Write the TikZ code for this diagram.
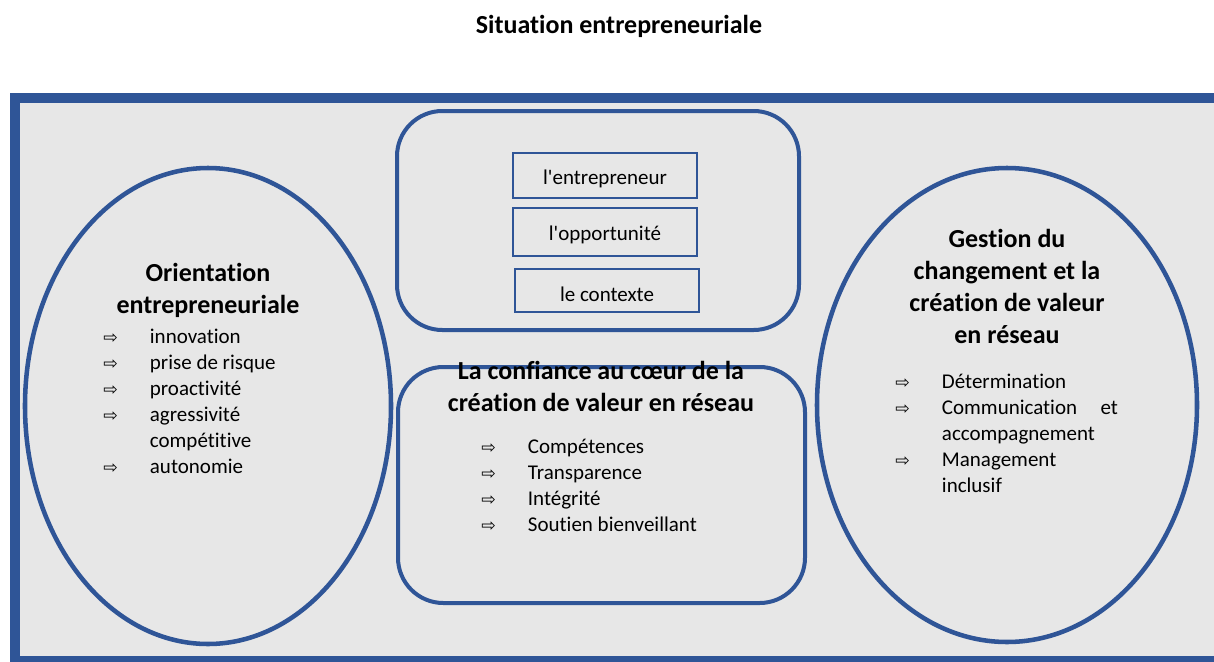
\documentclass[tikz,border=0pt]{standalone}
\usepackage{fontspec}
\setmainfont{Carlito}[Ligatures={NoCommon}]
\newfontfamily\symfont{DejaVu Sans}
\usepackage{tikz}
\definecolor{frameblue}{RGB}{47,85,151}
\definecolor{panelgray}{RGB}{231,231,231}
\newcommand{\arw}{\makebox[35pt][l]{{\symfont\fontsize{13}{14}\selectfont ⇨}}}
\newcommand{\noarw}{\makebox[35pt][l]{}}

\begin{document}
\begin{tikzpicture}[x=0.75pt,y=0.75pt,yscale=-1,xscale=1,
  heading/.style={font=\fontsize{19.5}{24}\selectfont\bfseries, align=center, inner sep=0pt},
  items/.style={font=\fontsize{15.75}{19.5}\selectfont, align=left, inner sep=0pt, anchor=west},
  boxtext/.style={font=\fontsize{15.75}{19.5}\selectfont, inner sep=0pt}]
\useasboundingbox (0,0) rectangle (1214,661);

% Title
\draw (619,26) node (sittitle) [heading] {Situation entrepreneuriale};

%Shape: Rectangle [frame]
\draw [color=frameblue, fill=panelgray, line width=7.5pt] (15,98) rectangle (1230,661);

%Shape: Ellipse [left]
\draw [color=frameblue, line width=3.4pt] (208,406) ellipse (183 and 238);
%Shape: Ellipse [right]
\draw [color=frameblue, line width=3.4pt] (1007,405) ellipse (190 and 237);

%Rounded Rect [top]
\draw [color=frameblue, line width=3pt, rounded corners=34pt] (397,111) rectangle (799,330);
%Shape: Rectangle [inner boxes]
\draw [color=frameblue, line width=2pt] (513,153) rectangle (697,198);
\draw [color=frameblue, line width=2pt] (513,208) rectangle (697,256);
\draw [color=frameblue, line width=2pt] (515,269) rectangle (699,312);

%Rounded Rect [bottom]
\draw [color=frameblue, line width=3pt, rounded corners=34pt] (398,367) rectangle (805,603);

% Text Node
\draw (605,179) node (entrep) [boxtext] {l\textquotesingle entrepreneur};
\draw (605,235) node (opport) [boxtext] {l\textquotesingle opportunité};
\draw (607,294) node (contexte) [boxtext] {le contexte};

% Text Node
\draw (208,290) node (orienthead) [heading] {Orientation\\entrepreneuriale};
\draw (103,401) node (orientlist) [items] {\arw innovation\\\arw prise de risque\\\arw proactivité\\\arw agressivité\\\noarw compétitive\\\arw autonomie};

% Text Node
\draw (601,386) node (confhead) [heading] {La confiance au cœur de la\\création de valeur en réseau};
\draw (481,485) node (conflist) [items] {\arw Compétences\\\arw Transparence\\\arw Intégrité\\\arw Soutien bienveillant};

% Text Node
\draw (1007,286) node (gesthead) [heading] {Gestion du\\changement et la\\création de valeur\\en réseau};
\draw (895,433) node (gestlist) [items] {\arw Détermination\\\arw \hbox to 132pt{Communication\hfill et}\\\noarw accompagnement\\\arw Management\\\noarw inclusif};

\end{tikzpicture}
\end{document}
